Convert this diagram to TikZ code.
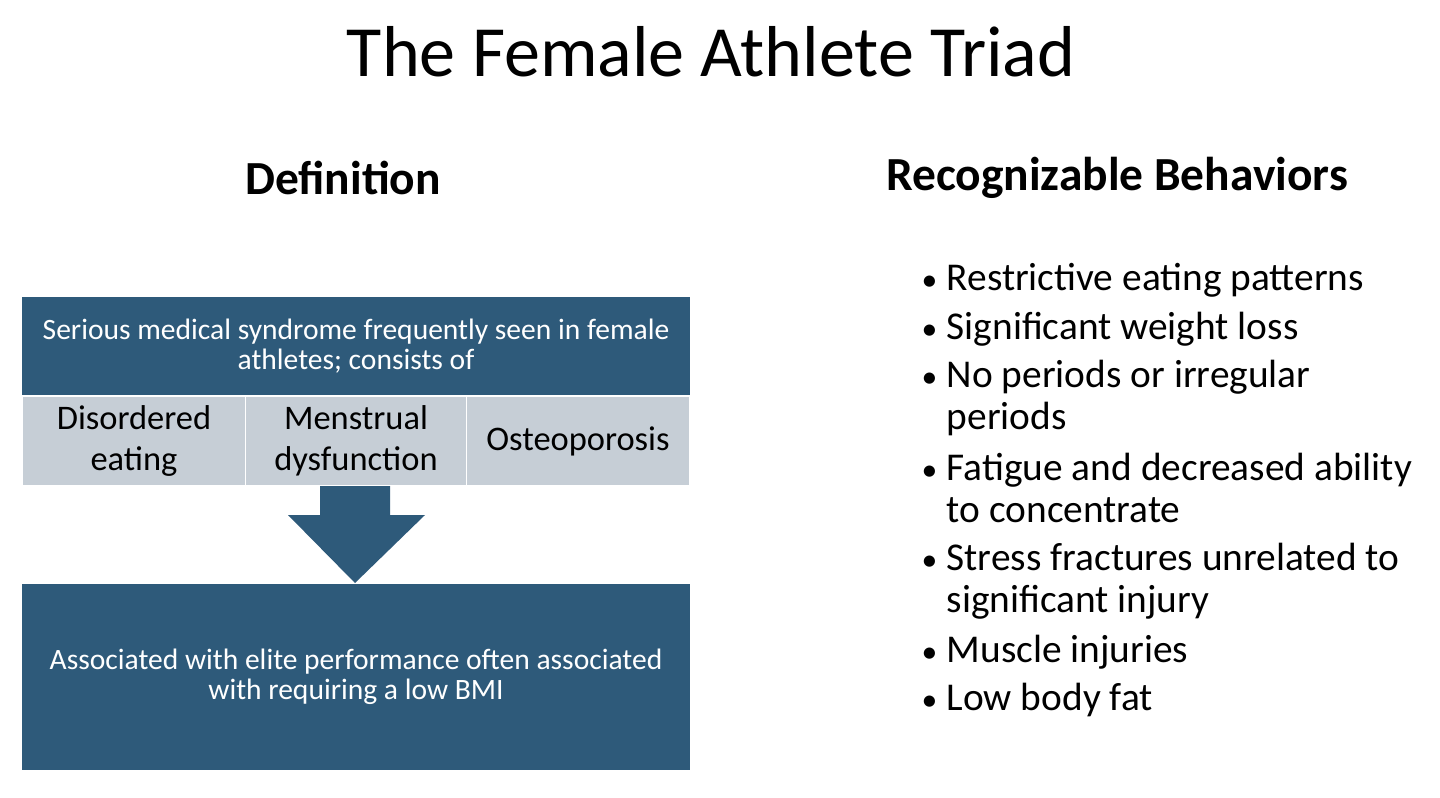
\documentclass[tikz,border=0pt]{standalone}
\usepackage{fontspec}
\setmainfont{Carlito}
\usetikzlibrary{positioning}
\definecolor{boxblue}{HTML}{2E5A7A}
\definecolor{cellgray}{HTML}{C6CED6}
\tikzset{
  heading/.style={font=\fontsize{13.5}{16}\selectfont\bfseries},
  bluebox/.style={fill=boxblue,text=white,align=center,font=\fontsize{8.4}{8.6}\selectfont},
  cell/.style={fill=cellgray,align=center,minimum height=0.88cm,font=\fontsize{9.8}{11.5}\selectfont,inner sep=0pt},
  item/.style={anchor=base west,align=flush left,text width=5.1cm,font=\fontsize{11.2}{12.2}\selectfont,inner sep=0pt}
}
\begin{document}
\begin{tikzpicture}[x=0.01cm,y=-0.01cm]
	\useasboundingbox (0,0) rectangle (1440,797);
	\node[font=\fontsize{20.5}{24}\selectfont] (title) at (711,52) {The Female Athlete Triad};
	\node[heading] (def) at (343,178) {Definition};
	\node[heading] (beh) at (1117,178) {Recognizable Behaviors};
	% definition side
	\node[bluebox,minimum width=6.68cm,minimum height=0.98cm] (top) at (356,346) {Serious medical syndrome frequently seen in female\\athletes; consists of};
	\node[cell,minimum width=2.22cm] (c1) at (134,441) {Disordered\\eating};
	\node[cell,minimum width=2.2cm] (c2) at (356,441) {Menstrual\\dysfunction};
	\node[cell,minimum width=2.22cm] (c3) at (578,441) {Osteoporosis};
	\fill[boxblue] (320,486) -- (390,486) -- (390,515) -- (425,515) -- (355,583) -- (288,515) -- (320,515) -- cycle;
	\node[bluebox,minimum width=6.68cm,minimum height=1.85cm] (bot) at (356,677) {Associated with elite performance often associated\\with requiring a low BMI};
	% behaviours (first baselines)
	\foreach \name/\y/\txt in {b1/290/Restrictive eating patterns, b2/339/Significant weight loss,
		b3/387/No periods or irregular\\periods, b4/480/Fatigue and decreased ability\\to concentrate,
		b5/570/Stress fractures unrelated to\\significant injury, b6/662/Muscle injuries, b7/710/Low body fat}
	{
		\node[item] (\name) at (946,\y) {\txt};
		\node[font=\fontsize{9}{10}\selectfont,anchor=base east,inner sep=0pt] at (938,\y) {•};
	}
\end{tikzpicture}
\end{document}
